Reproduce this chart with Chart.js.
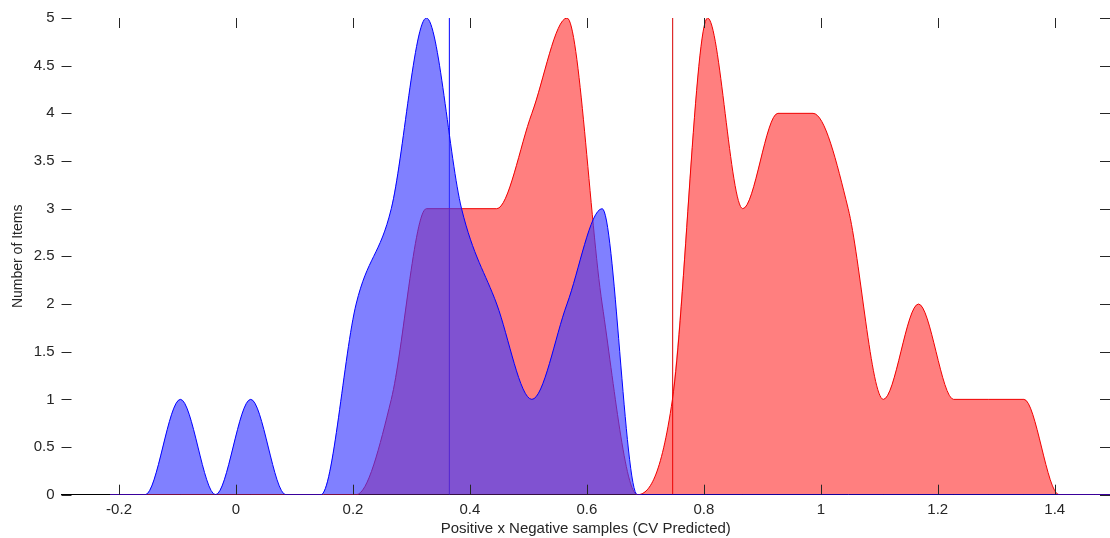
<!DOCTYPE html>
<html>
<head>
<meta charset="utf-8">
<title>CV Predicted distribution</title>
<script src="https://cdn.jsdelivr.net/npm/chart.js@4/dist/chart.umd.min.js"></script>
<style>
  html, body { margin: 0; padding: 0; background: #fff; }
  #wrap { width: 1110px; height: 538px; position: relative; }
</style>
</head>
<body>
<div id="wrap"><canvas id="distChart"></canvas></div>
<script>
// -----------------------
// Data (histogram counts per bin centre)
// -----------------------
const binCenters = [
  -0.2153, -0.1552, -0.0951, -0.0350, 0.0251, 0.0852, 0.1453, 0.2054, 0.2655, 0.3256,
  0.3857, 0.4458, 0.5059, 0.5660, 0.6261, 0.6862, 0.7463, 0.8064, 0.8665, 0.9266,
  0.9867, 1.0468, 1.1069, 1.1670, 1.2271, 1.2872, 1.3473, 1.4074, 1.4675, 1.5276
];
const negativeCounts = [
  0, 0, 1, 0, 1, 0, 0, 2, 3, 5,
  3, 2, 1, 2, 3, 0, 0, 0, 0, 0,
  0, 0, 0, 0, 0, 0, 0, 0, 0, 0
];
const positiveCounts = [
  0, 0, 0, 0, 0, 0, 0, 0, 1, 3,
  3, 3, 4, 5, 2, 0, 1, 5, 3, 4,
  4, 3, 1, 2, 1, 1, 1, 0, 0, 0
];
const negativeMean = 0.3648;
const positiveMean = 0.7467;

const xTitle = "Positive x Negative samples (CV Predicted)";
const yTitle = "Number of Items";

const TICK_LEN = 10;
const FONT = "'Liberation Sans', Arial, sans-serif";

const toPoints = counts => binCenters.map((x, i) => ({ x: x, y: counts[i] }));
const meanLine = v => [{ x: v, y: 0 }, { x: v, y: 5 }];
// "5", "4.5", "0.2" -- no trailing zeros
const plainNumber = v => String(+Number(v).toFixed(2));

// inward tick marks on all four sides
const tickMarks = {
  id: "tickMarks",
  afterDatasetsDraw(chart) {
    const { ctx, chartArea: a, scales: { x, y } } = chart;
    ctx.save();
    ctx.strokeStyle = "#262626";
    ctx.lineWidth = 1;
    ctx.beginPath();
    x.ticks.forEach(t => {
      const px = Math.round(x.getPixelForValue(t.value)) + 0.5;
      ctx.moveTo(px, a.top);
      ctx.lineTo(px, a.top + TICK_LEN);
      ctx.moveTo(px, a.bottom);
      ctx.lineTo(px, a.bottom - TICK_LEN);
    });
    y.ticks.forEach(t => {
      const py = Math.round(y.getPixelForValue(t.value)) + 0.5;
      ctx.moveTo(a.left, py);
      ctx.lineTo(a.left + TICK_LEN, py);
      ctx.moveTo(a.right, py);
      ctx.lineTo(a.right - TICK_LEN, py);
    });
    ctx.stroke();
    ctx.restore();
  }
};

const ctx = document.getElementById("distChart").getContext("2d");

new Chart(ctx, {
  type: "line",
  data: {
    datasets: [
      {
        data: toPoints(negativeCounts),
        borderColor: "#0000ff",
        backgroundColor: "rgba(56, 56, 255, 0.64)",
        borderWidth: 1,
        fill: "origin",
        cubicInterpolationMode: "monotone",
        pointRadius: 0
      },
      {
        data: toPoints(positiveCounts),
        borderColor: "#f00000",
        backgroundColor: "rgba(255, 0, 0, 0.5)",
        borderWidth: 1,
        fill: "origin",
        cubicInterpolationMode: "monotone",
        pointRadius: 0
      },
      {
        data: meanLine(negativeMean),
        borderColor: "#0000ff",
        borderWidth: 1,
        fill: false,
        pointRadius: 0
      },
      {
        data: meanLine(positiveMean),
        borderColor: "#d80000",
        borderWidth: 1,
        fill: false,
        pointRadius: 0
      }
    ]
  },
  options: {
    responsive: true,
    maintainAspectRatio: false,
    animation: false,
    layout: { padding: { top: 18, right: 0, left: 0, bottom: 0 } },
    plugins: {
      legend: { display: false },
      tooltip: { enabled: false }
    },
    scales: {
      x: {
        type: "linear",
        min: -0.2984,
        max: 1.4945,
        grid: { display: false, drawTicks: false, tickLength: 0 },
        border: { display: true, color: "#000", width: 1 },
        ticks: {
          stepSize: 0.2,
          includeBounds: false,
          maxRotation: 0,
          autoSkip: false,
          padding: 6,
          color: "#262626",
          font: { family: FONT, size: 15 },
          callback: plainNumber
        },
        title: {
          display: true,
          text: xTitle,
          color: "#262626",
          padding: { top: 0, bottom: 0 },
          font: { family: FONT, size: 15 }
        },
        afterFit(scale) { scale.height = 43.3; }
      },
      y: {
        min: 0,
        max: 5,
        grid: { display: false, drawTicks: false, tickLength: 0 },
        border: { display: false },
        ticks: {
          stepSize: 0.5,
          includeBounds: false,
          padding: 7,
          color: "#262626",
          font: { family: FONT, size: 15 },
          callback: plainNumber
        },
        title: {
          display: true,
          text: yTitle,
          color: "#262626",
          padding: { top: 10, bottom: 0 },
          font: { family: FONT, size: 14 }
        },
        afterFit(scale) { scale.width = 61.5; }
      }
    }
  },
  plugins: [tickMarks]
});
</script>
</body>
</html>
